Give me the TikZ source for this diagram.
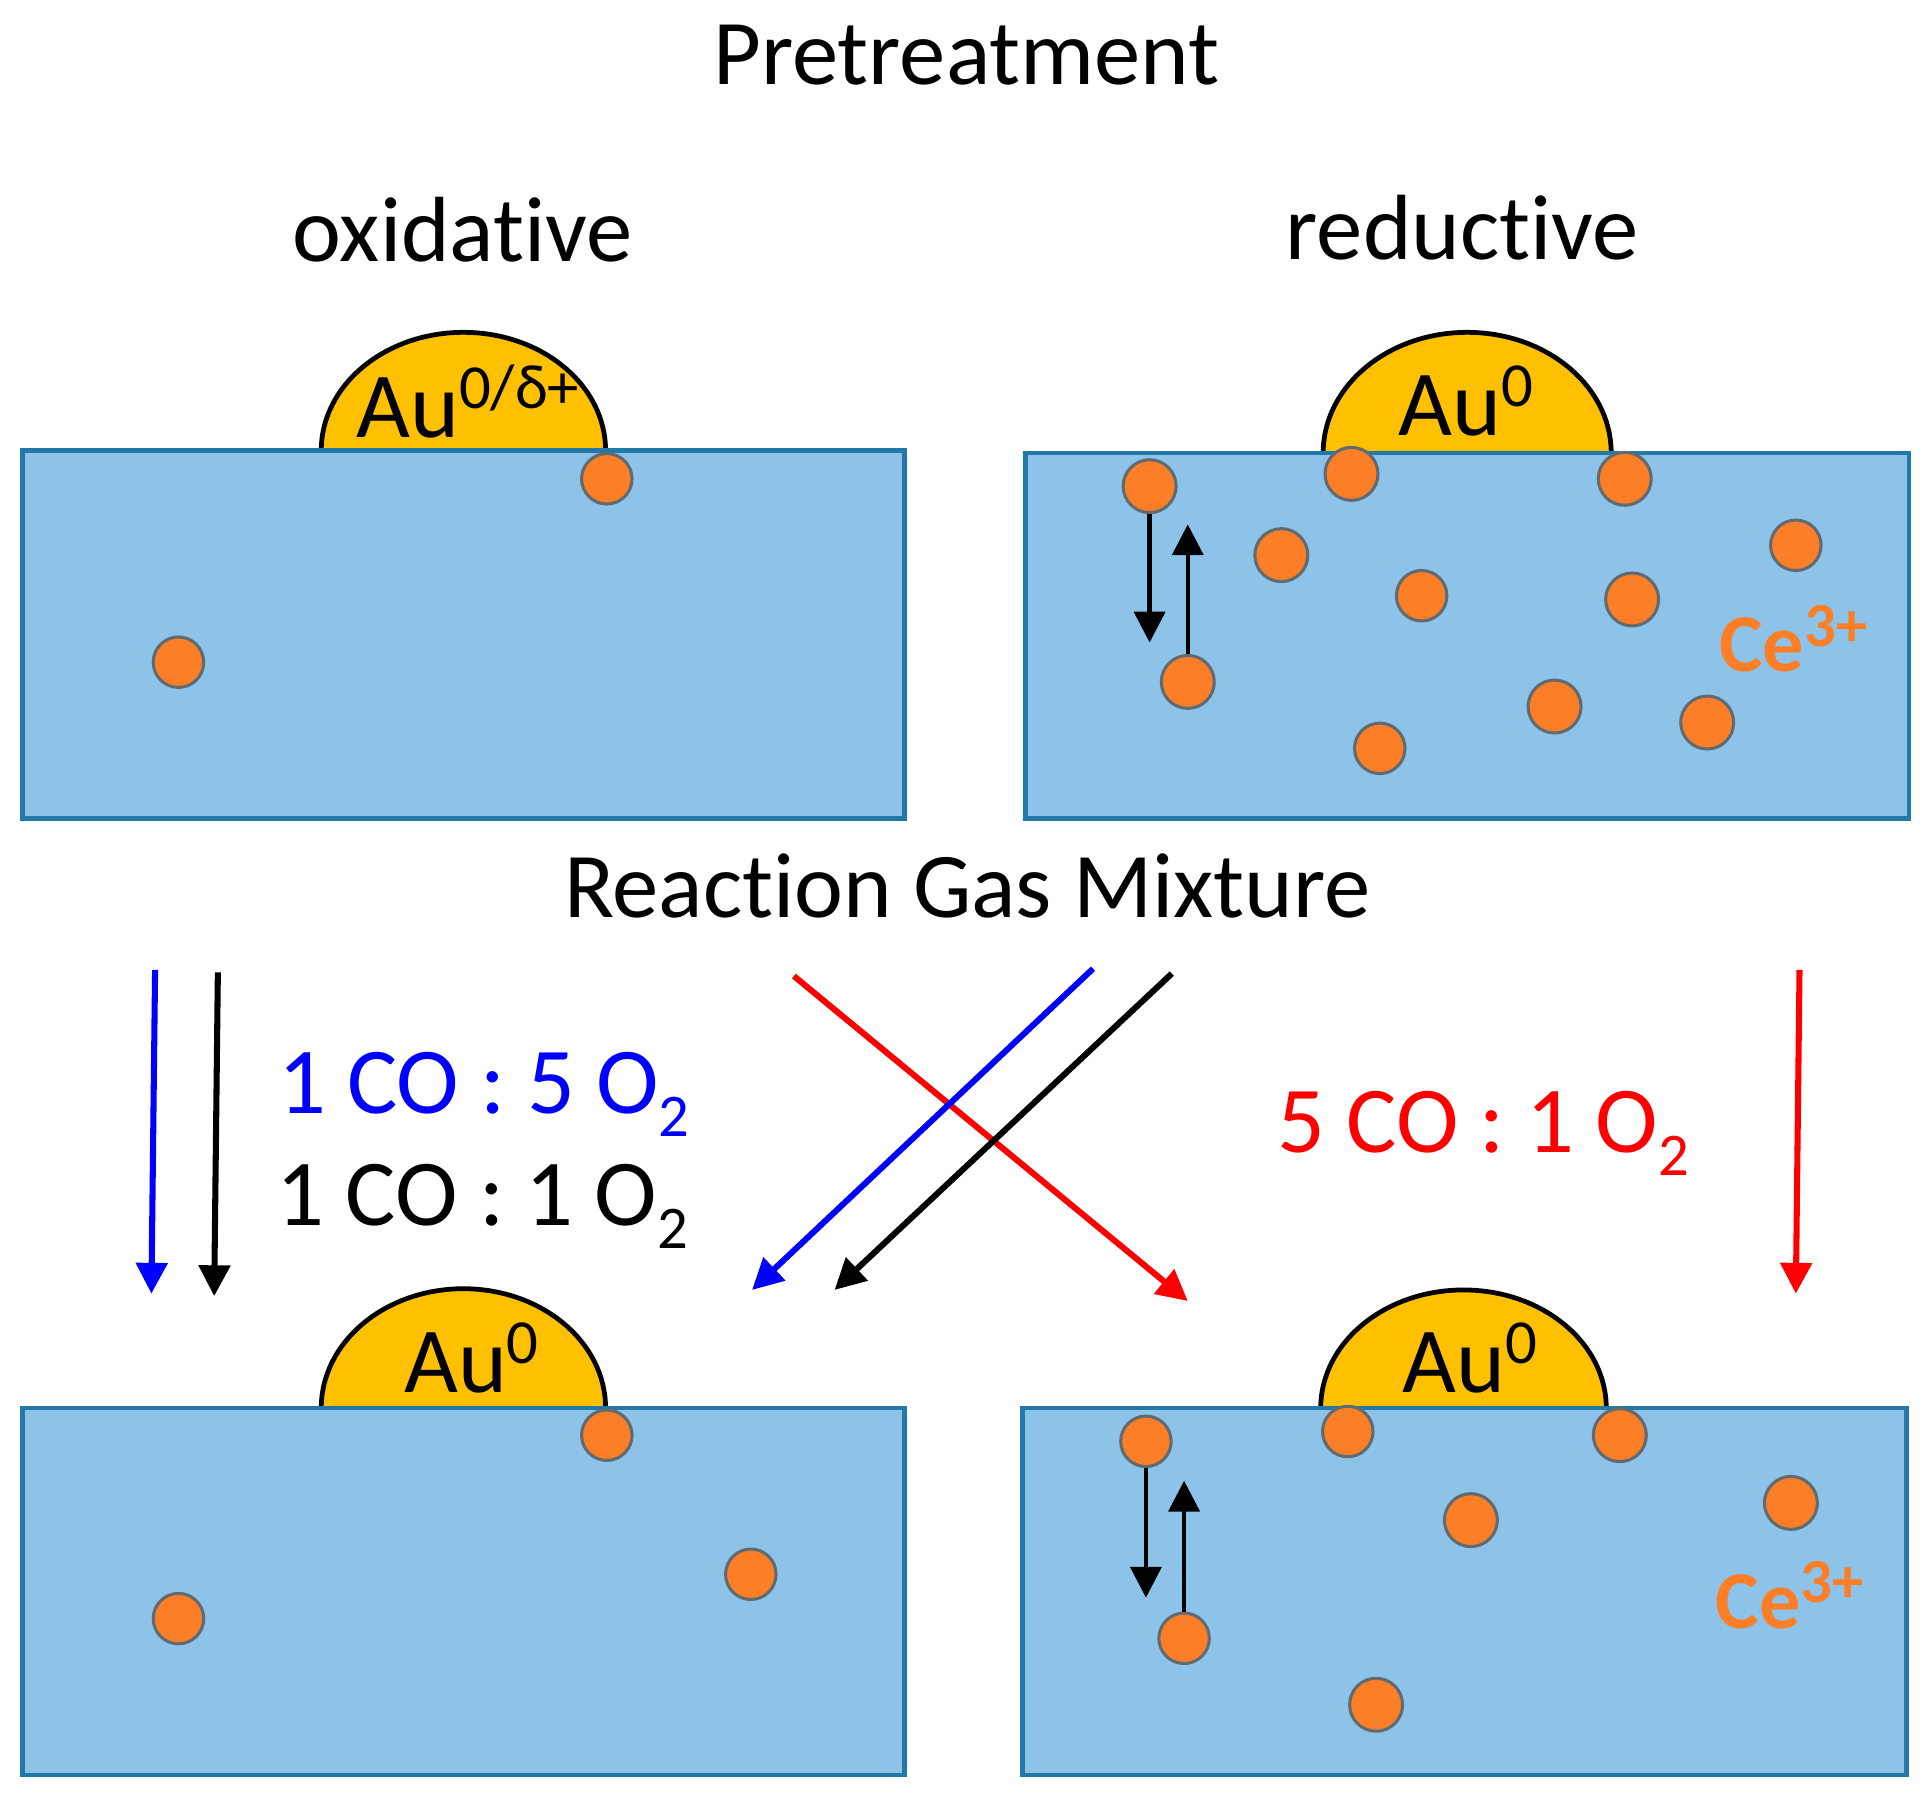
\documentclass[tikz,border=0pt]{standalone}
\usepackage{fontspec}
\setmainfont[Ligatures=NoCommon]{Carlito}
\usetikzlibrary{arrows.meta}
\definecolor{slabblue}{HTML}{8DC3E9}
\definecolor{slabedge}{HTML}{2279A8}
\definecolor{goldau}{HTML}{FFC000}
\definecolor{ionorange}{HTML}{FC7E26}
\definecolor{ionedge}{HTML}{5F6B70}
\newcommand{\upidx}[1]{\raisebox{0.31em}{\fontsize{14.5}{14.5}\selectfont #1}}
\newcommand{\loidx}[1]{\raisebox{-0.24em}{\fontsize{14}{14}\selectfont #1}}
\tikzset{
  slab/.style={draw=slabedge,fill=slabblue,line width=1.1pt},
  dome/.style={draw=black,fill=goldau,line width=1.1pt},
  ion/.style={circle,draw=ionedge,fill=ionorange,line width=0.7pt,inner sep=0pt,minimum size=0.43cm},
  smallion/.style={ion,minimum size=0.41cm},
  title/.style={inner sep=0pt,font=\fontsize{21.4}{21.4}\selectfont},
  ratio/.style={inner sep=0pt,font=\fontsize{21.8}{21.8}\selectfont},
  aulabel/.style={inner sep=0pt,font=\fontsize{21.5}{21.5}\selectfont},
  celabel/.style={inner sep=0pt,text=ionorange,font=\bfseries\fontsize{19}{19}\selectfont},
  gasarrow/.style={line width=1.4pt,-{Triangle[length=0.25cm,width=0.25cm]}},
  hoparrow/.style={black,line width=1pt,-{Triangle[length=0.25cm,width=0.25cm]}}
}
\begin{document}
\begin{tikzpicture}[x=0.01cm,y=-0.01cm]
  \useasboundingbox (0,0) rectangle (1568,1460);
  % headings
  \node[title] (pretreat) at (785,45) {Pretreatment};
  \node[title] (oxid) at (376,187) {oxidative};
  \node[title] (reduc) at (1188,185) {reductive};
  \node[title] (mixture) at (786,720) {Reaction Gas Mixture};
  % top left
  \draw[dome] (261,366) arc[start angle=180,end angle=360,x radius=115.5,y radius=96];
  \draw[slab] (18,366) rectangle (735,665);
  \node[aulabel] (auA) at (380,326) {Au\upidx{0/δ+}};
  \node[smallion] (a1) at (493,389) {};
  \node[smallion] (a2) at (145,538) {};
  % top right
  \draw[dome] (1075,368) arc[start angle=180,end angle=360,x radius=117,y radius=98];
  \draw[slab] (833,368) rectangle (1551,665);
  \node[aulabel] (auB) at (1191,326) {Au\upidx{0}};
  \node[ion] (b1) at (934,395) {};
  \node[ion] (b2) at (1098,385) {};
  \node[ion] (b3) at (1320,389) {};
  \node[ion] (b4) at (1041,451) {};
  \node[smallion] (b5) at (1155,484) {};
  \node[ion] (b6) at (1326,487) {};
  \node[smallion] (b7) at (1459,443) {};
  \node[ion] (b8) at (965,554) {};
  \node[ion] (b9) at (1263,574) {};
  \node[ion] (b10) at (1387,587) {};
  \node[smallion] (b11) at (1121,608) {};
  \node[celabel] (ceB) at (1457,519) {Ce\upidx{3+}};
  \coordinate (b1end) at (934,522);
  \coordinate (b8end) at (965,426);
  \draw[hoparrow] (b1) to (b1end);
  \draw[hoparrow] (b8) to (b8end);
  % gas mixtures
  \node[ratio,text=blue] (ratioA) at (393,889) {1 CO : 5 O\loidx{2}};
  \node[ratio] (ratioB) at (392,980) {1 CO : 1 O\loidx{2}};
  \node[ratio,text=red] (ratioC) at (1205,921) {5 CO : 1 O\loidx{2}};
  \coordinate (s1) at (126,788);
  \coordinate (e1) at (123,1051);
  \coordinate (s2) at (177,790);
  \coordinate (e2) at (174,1053);
  \coordinate (s3) at (645,793);
  \coordinate (e3) at (965,1057);
  \coordinate (s4) at (888,787);
  \coordinate (e4) at (611,1048);
  \coordinate (s5) at (952,791);
  \coordinate (e5) at (678,1048);
  \coordinate (s6) at (1462,788);
  \coordinate (e6) at (1459,1051);
  \begin{scope}[gasarrow]
    \draw[blue] (s1) to (e1);
    \draw[black] (s2) to (e2);
    \draw[red] (s3) to (e3);
    \draw[blue] (s4) to (e4);
    \draw[black] (s5) to (e5);
    \draw[red] (s6) to (e6);
  \end{scope}
  % bottom left
  \draw[dome] (261,1144) arc[start angle=180,end angle=360,x radius=115.5,y radius=97];
  \draw[slab] (18,1144) rectangle (735,1442);
  \node[aulabel] (auC) at (383,1103) {Au\upidx{0}};
  \node[smallion] (c1) at (493,1166) {};
  \node[smallion] (c2) at (145,1315) {};
  \node[smallion] (c3) at (610,1279) {};
  % bottom right
  \draw[dome] (1073,1144) arc[start angle=180,end angle=360,x radius=116,y radius=96];
  \draw[slab] (831,1144) rectangle (1549,1442);
  \node[aulabel] (auD) at (1194,1103) {Au\upidx{0}};
  \node[smallion] (d1) at (931,1171) {};
  \node[smallion] (d2) at (1095,1163) {};
  \node[ion] (d3) at (1316,1166) {};
  \node[ion] (d4) at (1195,1235) {};
  \node[ion] (d5) at (1455,1221) {};
  \node[smallion] (d6) at (962,1331) {};
  \node[ion] (d7) at (1118,1385) {};
  \node[celabel] (ceD) at (1454,1296) {Ce\upidx{3+}};
  \coordinate (d1end) at (931,1298);
  \coordinate (d6end) at (962,1203);
  \draw[hoparrow] (d1) to (d1end);
  \draw[hoparrow] (d6) to (d6end);
\end{tikzpicture}
\end{document}
